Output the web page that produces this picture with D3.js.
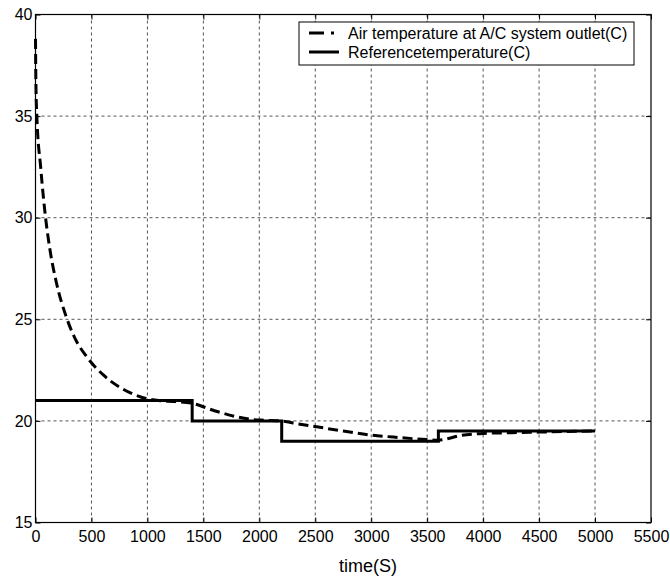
<!DOCTYPE html>
<meta charset="utf-8">
<html lang="en">
<head>
<title>Air temperature vs reference</title>
<script src="https://d3js.org/d3.v7.min.js"></script>
<style>
  body { margin: 0; background: #fff; }
  svg text { font-family: "Liberation Sans", Arial, sans-serif; fill: #000; }
  .tick text { font-size: 16px; }
</style>
</head>
<body>
<div id="chart"></div>
<script>
// values
var airTime = [0, 4, 12, 46, 90, 130, 189, 273, 353, 457, 606, 770, 934, 1100, 1250, 1396,
               1600, 1800, 1917, 2050, 2185, 2350, 2513, 2750, 2989, 3250, 3496, 3600, 3700, 3793,
               4000, 4250, 4508, 4750, 5000];
var airTemp = [38.8, 36.5, 35, 32.5, 30, 28.4, 26.75, 25.15, 24.06, 23.16, 22.26, 21.6, 21.19, 21.0, 20.95, 20.87,
               20.5, 20.2, 20.08, 20.03, 20.0, 19.85, 19.71, 19.5, 19.31, 19.18, 19.08, 19.05, 19.15, 19.28,
               19.38, 19.42, 19.45, 19.48, 19.5];
var refTime = [0, 1400, 2200, 3600, 5000];
var refTemp = [21, 20, 19, 19.5, 19.5];
var xTicks = d3.range(0, 5501, 500);
var yTicks = [15, 20, 25, 30, 35, 40];
var legendLabels = ["Air temperature at A/C system outlet(C)", "Referencetemperature(C)"];

var W = 670, H = 580;
var mLeft = 35.5, mRight = 651, mTop = 14.5, mBottom = 522.5;

var svg = d3.select("#chart").append("svg").attr("width", W).attr("height", H);

var x = d3.scaleLinear().domain([0, 5500]).range([mLeft, mRight]);
var y = d3.scaleLinear().domain([15, 40]).range([mBottom, mTop]);

// grid
var grid = svg.append("g").attr("stroke", "#555").attr("stroke-dasharray", "3,3").attr("stroke-width", 1);
grid.selectAll(".vg").data(xTicks.slice(1, -1)).enter().append("line")
    .attr("x1", d => x(d)).attr("x2", d => x(d)).attr("y1", mTop).attr("y2", mBottom);
grid.selectAll(".hg").data(yTicks.slice(1, -1)).enter().append("line")
    .attr("y1", d => y(d)).attr("y2", d => y(d)).attr("x1", mLeft).attr("x2", mRight);

// axes, ticks pointing inwards like matlab
svg.append("g").attr("transform", "translate(0," + mBottom + ")")
    .call(d3.axisBottom(x).tickValues(xTicks).tickFormat(d3.format("d")).tickSize(-5).tickPadding(8).tickSizeOuter(0))
    .call(g => g.select(".domain").remove());
svg.append("g").attr("transform", "translate(" + mLeft + ",0)")
    .call(d3.axisLeft(y).tickValues(yTicks).tickSize(-5).tickPadding(3).tickSizeOuter(0))
    .call(g => g.select(".domain").remove());
svg.append("g").attr("transform", "translate(0," + mTop + ")")
    .call(d3.axisTop(x).tickValues(xTicks).tickSize(-5).tickFormat("").tickSizeOuter(0))
    .call(g => g.select(".domain").remove());
svg.append("g").attr("transform", "translate(" + mRight + ",0)")
    .call(d3.axisRight(y).tickValues(yTicks).tickSize(-5).tickFormat("").tickSizeOuter(0))
    .call(g => g.select(".domain").remove());
svg.selectAll(".tick line").attr("stroke", "#000");

svg.append("rect").attr("x", mLeft).attr("y", mTop).attr("width", mRight - mLeft).attr("height", mBottom - mTop)
    .attr("fill", "none").attr("stroke", "#000").attr("stroke-width", 1.2);

// series
var airLine = d3.line().x((d, i) => x(airTime[i])).y(d => y(d)).curve(d3.curveMonotoneX);
svg.append("path").datum(airTemp).attr("d", airLine)
    .attr("fill", "none").attr("stroke", "#000").attr("stroke-width", 3)
    .attr("stroke-dasharray", "10,5");

var refLine = d3.line().x((d, i) => x(refTime[i])).y(d => y(d)).curve(d3.curveStepAfter);
svg.append("path").datum(refTemp).attr("d", refLine)
    .attr("fill", "none").attr("stroke", "#000").attr("stroke-width", 3);

// x label
svg.append("text").attr("x", 368).attr("y", 572).attr("text-anchor", "middle")
    .style("font-size", "18px").text("time(S)");

// legend
var lg = svg.append("g");
lg.append("rect").attr("x", 299).attr("y", 22).attr("width", 335).attr("height", 43)
    .attr("fill", "#fff").attr("stroke", "#000").attr("stroke-width", 1);
var dashes = ["15,7,3,100", null];
legendLabels.forEach(function (t, i) {
    var yy = 33 + i * 19;
    lg.append("line").attr("x1", 309).attr("x2", 339).attr("y1", yy).attr("y2", yy)
        .attr("stroke", "#000").attr("stroke-width", 3).attr("stroke-dasharray", dashes[i]);
    lg.append("text").attr("x", 348).attr("y", yy).attr("dy", "0.35em")
        .style("font-size", "16px").text(t);
});
</script>
</body>
</html>
